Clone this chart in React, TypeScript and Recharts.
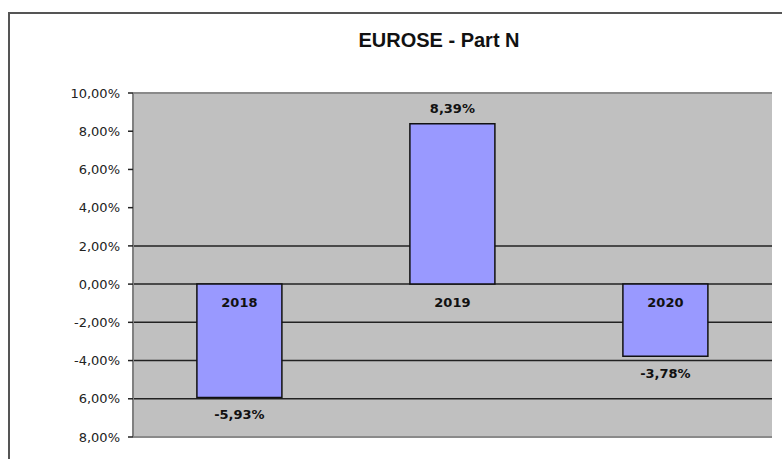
import { BarChart, Bar, XAxis, YAxis, CartesianGrid, LabelList } from "recharts";

const years = ["2018", "2019", "2020"];
const changes = [-5.93, 8.39, -3.78];
const valueLabels = ["-5,93%", "8,39%", "-3,78%"];
const yTicks = [-8, -6, -4, -2, 0, 2, 4, 6, 8, 10];
const yTickLabels = ["8,00%", "6,00%", "-4,00%", "-2,00%", "0,00%", "2,00%", "4,00%", "6,00%", "8,00%", "10,00%"];
const gridLines = [2, 0, -2, -4, -6];
const frameLines = [10, -8];

const data = years.map((year, i) => ({ year, change: changes[i], label: valueLabels[i] }));

const labelFont = "'DejaVu Sans', Verdana, sans-serif";

// bar rect may come with a negative height for negative values, so normalise it
function span(y: number, height: number) {
  return { top: Math.min(y, y + height), bottom: Math.max(y, y + height) };
}

function ValueLabel(props: any) {
  const { x, y, width, height, index, value } = props;
  const { top, bottom } = span(Number(y), Number(height));
  const neg = changes[index] < 0;
  const cy = neg ? bottom + 17 : top - 15;
  return (
    <text x={x + width / 2} y={cy} dy="0.36em" textAnchor="middle" fontFamily={labelFont} fontSize={13} fontWeight="bold" fill="#111">
      {value}
    </text>
  );
}

function YearLabel(props: any) {
  const { x, y, width, height, index, value } = props;
  const { top, bottom } = span(Number(y), Number(height));
  const zero = changes[index] < 0 ? top : bottom;
  return (
    <text x={x + width / 2} y={zero + 18} dy="0.36em" textAnchor="middle" fontFamily={labelFont} fontSize={13} fontWeight="bold" fill="#111">
      {value}
    </text>
  );
}

export default function App() {
  return (
    <div style={{ position: "absolute", left: 0, top: 0, width: 782, height: 459, background: "#fff", overflow: "hidden" }}>
      <div style={{ position: "absolute", left: 8, top: 12, width: 800, height: 470, borderTop: "2px solid #555", borderLeft: "2px solid #555" }} />
      <div
        style={{
          position: "absolute",
          left: 0,
          top: 30,
          width: 878,
          textAlign: "center",
          fontFamily: "'Liberation Sans', Arial, sans-serif",
          fontWeight: "bold",
          fontSize: 20,
          lineHeight: "20px",
          color: "#111",
        }}
      >
        EUROSE - Part N
      </div>
      <div style={{ position: "absolute", left: 0, top: 0 }}>
        <BarChart width={782} height={459} data={data} margin={{ top: 93, right: 10, bottom: 22, left: 0 }} barCategoryGap="30%">
          <CartesianGrid vertical={false} horizontalValues={gridLines} stroke="#222" strokeWidth={1.5} fill="#c0c0c0" />
          <CartesianGrid vertical={false} horizontalValues={frameLines} stroke="#8a8a8a" strokeWidth={2} />
          <XAxis dataKey="year" hide />
          <YAxis
            domain={[-8, 10]}
            ticks={yTicks}
            interval={0}
            width={133}
            tickSize={5}
            tickMargin={8}
            axisLine={{ stroke: "#808080", strokeWidth: 2 }}
            tickLine={{ stroke: "#222", strokeWidth: 1.5 }}
            tick={{ fontFamily: labelFont, fontSize: 13, fill: "#222" }}
            tickFormatter={(v: number) => yTickLabels[yTicks.indexOf(v)]}
          />
          <YAxis yAxisId="frame" orientation="right" domain={[-8, 10]} width={0} tick={false} tickLine={false} axisLine={{ stroke: "#9a9a9a", strokeWidth: 2 }} />
          <Bar dataKey="change" fill="#9999ff" stroke="#111" strokeWidth={1.5} isAnimationActive={false}>
            <LabelList dataKey="label" content={ValueLabel} />
            <LabelList dataKey="year" content={YearLabel} />
          </Bar>
        </BarChart>
      </div>
    </div>
  );
}
